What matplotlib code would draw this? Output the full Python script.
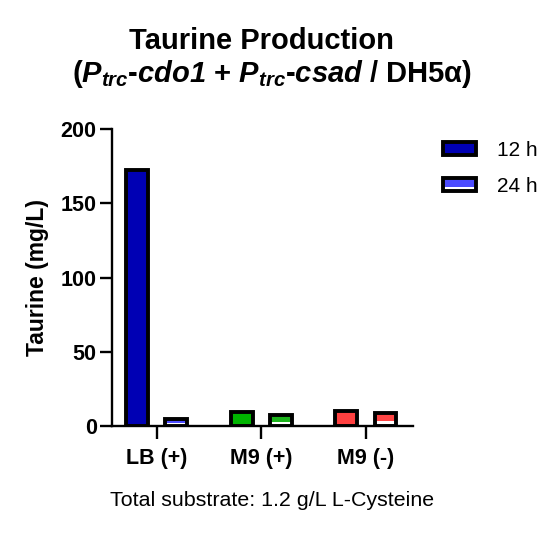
import numpy as np
import matplotlib
matplotlib.use('Agg')
import matplotlib.pyplot as plt
from matplotlib.patches import Rectangle
from matplotlib.legend_handler import HandlerBase

plt.rcParams['font.family'] = ['Liberation Sans', 'DejaVu Sans']
# all math parts of the title are bold italic (including the digit in cdo1)
plt.rcParams['mathtext.fontset'] = 'custom'
plt.rcParams['mathtext.rm'] = 'Liberation Sans:italic:bold'
plt.rcParams['mathtext.it'] = 'Liberation Sans:italic:bold'
plt.rcParams['mathtext.bf'] = 'Liberation Sans:italic:bold'

# data
groups = ['LB (+)', 'M9 (+)', 'M9 (-)']
taurine_12h = [172.7, 9.3, 10.4]
taurine_24h = [4.4, 7.3, 9.1]
series = ['12 h', '24 h']
colors_12h = ['#0000b4', '#00b400', '#ff4040']
colors_24h = ['#4b4bff', '#1cb41c', '#ff4444']
white_frac = 0.4  # white lower part of the 24 h bars

edge_lw = 2.8
bar_w = 0.21
offset = 0.187


class HandlerSplit(HandlerBase):
    # legend swatch: coloured top, white strip at the bottom, black frame
    def __init__(self, color, frac):
        super().__init__()
        self.color = color
        self.frac = frac

    def create_artists(self, legend, orig_handle, xdescent, ydescent,
                       width, height, fontsize, trans):
        x0, y0 = -xdescent, -ydescent
        top = Rectangle((x0, y0), width, height, facecolor=self.color,
                        edgecolor='none', transform=trans)
        low = Rectangle((x0, y0), width, height * self.frac, facecolor='white',
                        edgecolor='none', transform=trans)
        frame = Rectangle((x0, y0), width, height, facecolor='none',
                          edgecolor='black', lw=edge_lw, transform=trans)
        return [top, low, frame]


fig = plt.figure(figsize=(5.56, 5.39), dpi=100)
ax = fig.add_axes([0.2014, 0.2096, 0.5414, 0.5511])

x = np.arange(len(groups))
# 12 h
ax.bar(x - offset, taurine_12h, bar_w, color=colors_12h,
       edgecolor='black', linewidth=edge_lw, zorder=3)
# 24 h: colour, white base, then outline
ax.bar(x + offset, taurine_24h, bar_w, color=colors_24h, edgecolor='none', zorder=3)
ax.bar(x + offset, np.array(taurine_24h) * white_frac, bar_w, color='white',
       edgecolor='none', zorder=3)
ax.bar(x + offset, taurine_24h, bar_w, color='none',
       edgecolor='black', linewidth=edge_lw, zorder=4)

ax.set_xlim(-0.43, 2.45)
ax.set_ylim(0, 200)
ax.set_yticks([0, 50, 100, 150, 200])
ax.set_xticks(x)
ax.set_xticklabels(groups, fontsize=15.5, fontweight='bold')
for lab in ax.get_yticklabels():
    lab.set_fontsize(15.5)
    lab.set_fontweight('bold')

for s in ['top', 'right']:
    ax.spines[s].set_visible(False)
for s in ['left', 'bottom']:
    ax.spines[s].set_linewidth(1.7)
    ax.spines[s].set_zorder(5)
ax.tick_params(axis='both', width=1.7, length=9)
ax.tick_params(axis='y', pad=2)
ax.tick_params(axis='x', pad=6.5)

fig.text(38 / 556, 1 - 277 / 539, 'Taurine (mg/L)', rotation=90,
         ha='center', va='center', fontsize=16.5, fontweight='bold')

h12 = Rectangle((0, 0), 1, 1, facecolor=colors_12h[0], edgecolor='black', lw=edge_lw)
h24 = Rectangle((0, 0), 1, 1)
leg = fig.legend([h12, h24], series, loc='upper left',
                 bbox_to_anchor=(443 / 556, 1 - 141 / 539), frameon=False,
                 fontsize=15, borderaxespad=0, borderpad=0,
                 handlelength=1.59, handleheight=0.58, handletextpad=1.0,
                 labelspacing=0.8,
                 handler_map={h24: HandlerSplit(colors_24h[0], 0.3)})

fig.text(0.471, 1 - 49 / 539, 'Taurine Production', ha='center', va='baseline',
         fontsize=21, fontweight='bold')
fig.text(0.49, 1 - 82 / 539,
         r'($P_{trc}$-$cdo1$ + $P_{trc}$-$csad$ / DH5α)',
         ha='center', va='baseline', fontsize=21, fontweight='bold')

fig.text(0.489, 1 - 500 / 539, 'Total substrate: 1.2 g/L L-Cysteine', ha='center',
         va='center', fontsize=15.4)

fig.savefig('out.png', dpi=100)
